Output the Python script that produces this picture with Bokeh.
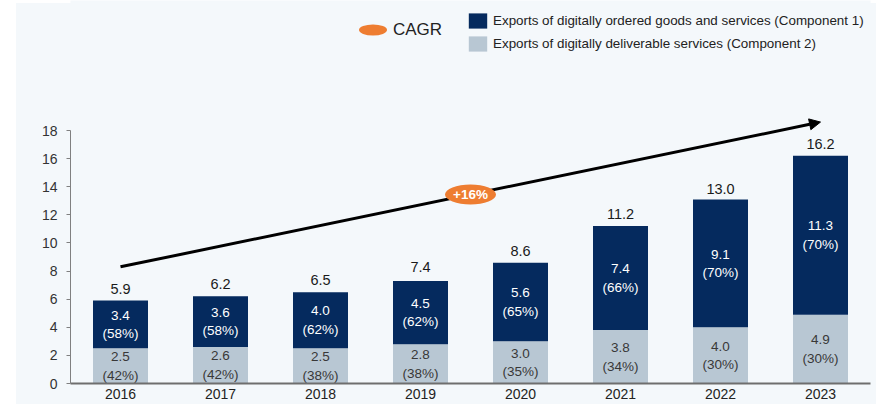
from bokeh.plotting import figure
from bokeh.models import (ColumnDataSource, FactorRange, Range1d, FixedTicker,
                          Legend, LegendItem, Arrow, NormalHead)
from bokeh.core.properties import value
from bokeh.embed import file_html
from bokeh.resources import INLINE

# ---------------- data ----------------
years = ["2016", "2017", "2018", "2019", "2020", "2021", "2022", "2023"]
comp1 = [3.4, 3.6, 4.0, 4.5, 5.6, 7.4, 9.1, 11.3]      # digitally ordered goods & services
comp2 = [2.5, 2.6, 2.5, 2.8, 3.0, 3.8, 4.0, 4.9]       # digitally deliverable services
totals = [5.9, 6.2, 6.5, 7.4, 8.6, 11.2, 13.0, 16.2]
share1 = [58, 58, 62, 62, 65, 66, 70, 70]
share2 = [42, 42, 38, 38, 35, 34, 30, 30]
cagr_label = "+16%"
y_ticks = [0, 2, 4, 6, 8, 10, 12, 14, 16, 18]
label1 = "Exports of digitally ordered goods and services (Component 1)"
label2 = "Exports of digitally deliverable services (Component 2)"

# ---------------- style ----------------
NAVY = "#052a5e"
LIGHT = "#b8c7d3"
ORANGE = "#ee7d31"
BG = "#f4f8fb"
FONT = "Liberation Sans"
ARROW_GAP = 2.4

src = ColumnDataSource(dict(
    year=years, c1=comp1, c2=comp2, total=totals,
    c2_mid=[b / 2 for b in comp2],
    c1_mid=[b + a / 2 for a, b in zip(comp1, comp2)],
    c1_lab=[f"{a:.1f}\n({s}%)" for a, s in zip(comp1, share1)],
    c2_lab=[f"{b:.1f}\n({s}%)" for b, s in zip(comp2, share2)],
    total_lab=[f"{t:.1f}" for t in totals],
))

p = figure(width=876, height=404,
           x_range=FactorRange(*years, range_padding=0),
           y_range=Range1d(0, 27.25),
           min_border_left=70, min_border_right=6, min_border_top=0, min_border_bottom=21,
           output_backend="svg", toolbar_location=None)
p.background_fill_color = BG
p.border_fill_color = BG
p.border_fill_alpha = 0
p.styles = {"background": f"linear-gradient(to right, white 0 16px, transparent 16px), "
                          f"linear-gradient(to bottom, white 0 3px, {BG} 3px)"}
p.outline_line_color = None
p.xgrid.visible = False
p.ygrid.visible = False

rs = p.vbar_stack(["c2", "c1"], x="year", width=0.55, fill_color=[LIGHT, NAVY],
                  line_color=None, source=src)

p.text(x="year", y="c1_mid", text="c1_lab", source=src, text_align="center",
       text_baseline="middle", text_font=value(FONT), text_font_size="13.5px",
       text_color="white", text_line_height=1.24)
p.text(x="year", y="c2_mid", text="c2_lab", source=src, text_align="center",
       text_baseline="middle", text_font=value(FONT), text_font_size="13.5px",
       text_color="#383838", text_line_height=1.24)
p.text(x="year", y="total", text="total_lab", source=src, text_align="center",
       text_baseline="bottom", y_offset=-7, text_font=value(FONT), text_font_size="14.5px",
       text_color="#1a1a1a")

# CAGR arrow
x0, x1 = 0.5, len(years) - 0.5
y0, y1 = totals[0] + ARROW_GAP, totals[-1] + ARROW_GAP
arrow = Arrow(end=NormalHead(size=11, fill_color="black", line_color="black"),
              x_start=x0, y_start=y0, x_end=x1, y_end=y1,
              line_width=3, line_color="black", level="underlay")
p.add_layout(arrow)
mx, my = (x0 + x1) / 2, (y0 + y1) / 2
ell = p.ellipse(x=[mx], y=[my], width=51, height=20, width_units="screen",
                height_units="screen", fill_color=ORANGE, line_color=None)
p.text(x=[mx], y=[my], text=[cagr_label], text_align="center", text_baseline="middle",
       text_font=value(FONT), text_font_size="13.5px", text_font_style="bold",
       text_color="white")

# axes
p.yaxis.ticker = FixedTicker(ticks=y_ticks)
p.yaxis.bounds = (y_ticks[0], y_ticks[-1])
p.yaxis.minor_tick_line_color = None
p.yaxis.major_tick_in = 0
p.yaxis.major_tick_out = 4
p.yaxis.major_label_standoff = 9
p.yaxis.axis_line_color = "#808080"
p.yaxis.major_tick_line_color = "#808080"
p.yaxis.major_label_text_font = FONT
p.yaxis.major_label_text_font_size = "14px"
p.yaxis.major_label_text_color = "#333333"

p.xaxis.major_tick_line_color = None
p.xaxis.minor_tick_line_color = None
p.xaxis.major_tick_in = 0
p.xaxis.major_tick_out = 0
p.xaxis.axis_line_color = "#6e6e6e"
p.xaxis.axis_line_width = 2
p.xaxis.major_label_standoff = 5
p.xaxis.major_label_text_font = FONT
p.xaxis.major_label_text_font_size = "14px"
p.xaxis.major_label_text_color = "#222222"

# legends
leg_cagr = Legend(items=[LegendItem(label="CAGR", renderers=[ell])],
                  location=(285, 336), padding=0, margin=0,
                  glyph_width=35, glyph_height=35, label_height=35, label_standoff=3,
                  label_text_font=FONT, label_text_font_size="17px",
                  label_text_color="#222222",
                  background_fill_alpha=0, border_line_alpha=0)
leg_comp = Legend(items=[LegendItem(label=label1, renderers=[rs[1]]),
                         LegendItem(label=label2, renderers=[rs[0]])],
                  location=(396, 330), padding=0, margin=0, spacing=4,
                  glyph_width=23, glyph_height=19, label_height=19, label_standoff=4,
                  label_text_font=FONT, label_text_font_size="13.4px",
                  label_text_color="#222222",
                  background_fill_alpha=0, border_line_alpha=0)
p.add_layout(leg_cagr)
p.add_layout(leg_comp)

open("out.html", "w").write(file_html(p, INLINE))
